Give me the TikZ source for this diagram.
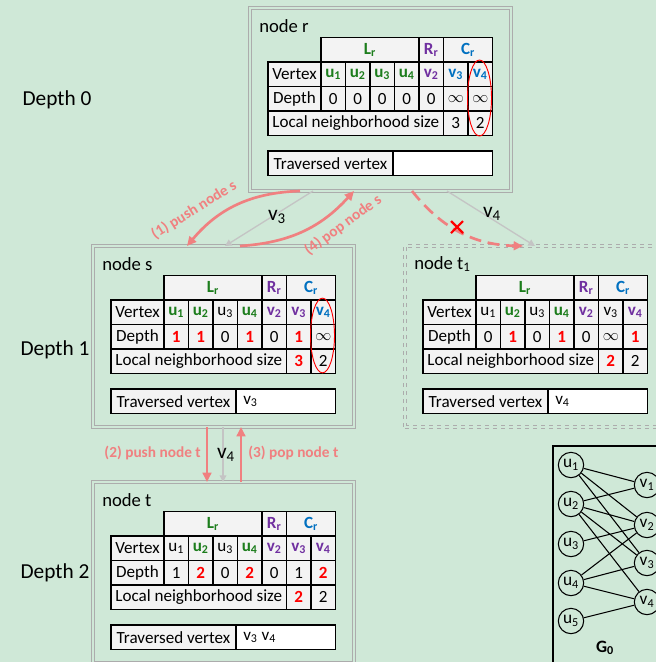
\documentclass[tikz,border=0pt]{standalone}
\usepackage{fontspec}
\setmainfont{Carlito}
\usetikzlibrary{calc,arrows.meta}

\definecolor{bggreen}{RGB}{207,232,215}
\definecolor{boxgray}{RGB}{172,172,172}
\definecolor{edgegray}{RGB}{196,196,196}
\definecolor{salmon}{RGB}{240,128,128}
\definecolor{cgreen}{RGB}{28,125,28}
\definecolor{cpurple}{RGB}{112,48,160}
\definecolor{cblue}{RGB}{0,112,192}
\definecolor{cred}{RGB}{255,0,0}
\definecolor{cellfill}{RGB}{243,243,243}

\tikzset{
  statebox/.style={draw=boxgray, double=bggreen, double distance=1.5pt, line width=0.8pt,
    minimum width=195.75pt, minimum height=135.75pt, inner sep=0pt, outer sep=0pt, anchor=north west},
  boxlabel/.style={font=\fontsize{14}{16}\selectfont, inner sep=0pt, anchor=west},
  tblline/.style={black, line width=0.9pt},
  txt/.style={inner sep=0pt, font=\fontsize{12.8}{14}\selectfont},
  ugrn/.style={txt, text=cgreen, font=\fontsize{12.8}{14}\selectfont\bfseries},
  vpur/.style={txt, text=cpurple, font=\fontsize{12.8}{14}\selectfont\bfseries},
  vblu/.style={txt, text=cblue, font=\fontsize{12.8}{14}\selectfont\bfseries},
  numred/.style={txt, text=cred, font=\fontsize{12.8}{14}\selectfont\bfseries},
  depthlabel/.style={font=\fontsize{16}{18}\selectfont},
  oplabel/.style={text=salmon, font=\fontsize{11.5}{13}\selectfont\bfseries, inner sep=0pt},
  oparrow/.style={salmon, line width=2pt, -{Triangle[length=7pt,width=6.5pt]}},
  treeedge/.style={edgegray, line width=1pt, -{Triangle[length=5pt,width=5pt]}},
  edgelabel/.style={font=\fontsize{16}{18}\selectfont, inner sep=0pt},
  gvertex/.style={circle, draw, line width=0.8pt, minimum size=19pt, inner sep=0pt, font=\fontsize{13}{14}\selectfont},
}

\newcommand{\vx}[2]{#1\textsubscript{#2}}

% search tree node: name, top left corner, title
\newcommand{\statebox}[4][]{%
  \node[statebox,#1] (#2) at (#3) {};
  \node[boxlabel] (#2-name) at ($(#2.north west)+(9,18)$) {#4};}

% table frame of a tree node, #2 = traversed vertices
\newcommand{\tblgrid}[2]{%
  \begin{scope}[shift={(#1.north west)}]
    \fill[cellfill] (71,29.5) rectangle (242.5,54);
    \fill[cellfill] (18,54) rectangle (242.5,127.5);
    \fill[cellfill] (18,143) rectangle (143,167.5);
    \fill[white] (143,143) rectangle (242.5,167.5);
    \draw[tblline] (71,29.5) rectangle (242.5,54) (169,29.5) -- (169,54) (193.5,29.5) -- (193.5,54);
    \draw[tblline] (18,54) rectangle (242.5,127.5) (18,78.5) -- (242.5,78.5) (18,103) -- (242.5,103);
    \foreach \i in {0,...,6} \draw[tblline] ({71+24.5*\i},54) -- ({71+24.5*\i},103);
    \draw[tblline] (193.5,103) -- (193.5,127.5) (218,103) -- (218,127.5);
    \draw[tblline] (18,143) rectangle (242.5,167.5) (143,143) -- (143,167.5);
    \node[ugrn] (#1-L) at (120,41.75) {\vx{L}{r}};
    \node[vpur] (#1-R) at (181.25,41.75) {\vx{R}{r}};
    \node[vblu] (#1-C) at (218,41.75) {\vx{C}{r}};
    \node[txt] (#1-vertex) at (44.5,66.25) {Vertex};
    \node[txt] (#1-depth) at (44.5,90.75) {Depth};
    \node[txt] (#1-size) at (105.75,115.25) {Local neighborhood size};
    \node[txt] (#1-trav) at (80.5,155.25) {Traversed vertex};
    \node[txt, anchor=west] (#1-travval) at (150,155.25) {#2};
  \end{scope}}

% one row of the seven vertex columns
\newcommand{\cellrow}[4]{%
  \foreach \st/\tx [count=\i] in {#4}
    \node[\st] (#1-#2\i) at ($(#1.north west)+({71+24.5*(\i-0.5)},#3)$) {\tx};}

\newcommand{\sizecells}[5]{%
  \node[#2] (#1-size6) at ($(#1.north west)+(205.75,115.25)$) {#3};
  \node[#4] (#1-size7) at ($(#1.north west)+(230.25,115.25)$) {#5};}

\begin{document}
\begin{tikzpicture}[x=0.75pt,y=-0.75pt]

\path[use as bounding box, fill=bggreen] (0,0) rectangle (656,662); % background
\clip (0,0) rectangle (656,662);

% tree nodes
\statebox[minimum height=137.25pt]{r}{250,8}{node r}
\statebox{s}{93,246}{node s}
\statebox[dashed]{t1}{405,246}{node \vx{t}{1}}
\statebox{t}{93,482}{node t}

% node r
\tblgrid{r}{}
\cellrow{r}{v}{66.25}{ugrn/\vx{u}{1}, ugrn/\vx{u}{2}, ugrn/\vx{u}{3}, ugrn/\vx{u}{4}, vpur/\vx{v}{2}, vblu/\vx{v}{3}, vblu/\vx{v}{4}}
\cellrow{r}{d}{90.75}{txt/0, txt/0, txt/0, txt/0, txt/0, txt/$\infty$, txt/$\infty$}
\sizecells{r}{txt}{3}{txt}{2}
\draw[cred, line width=0.7pt] ($(r.north west)+(229.5,90)$) ellipse [x radius=9pt, y radius=28.5pt];

% node s
\tblgrid{s}{\vx{v}{3}}
\cellrow{s}{v}{66.25}{ugrn/\vx{u}{1}, ugrn/\vx{u}{2}, txt/\vx{u}{3}, ugrn/\vx{u}{4}, vpur/\vx{v}{2}, vpur/\vx{v}{3}, vblu/\vx{v}{4}}
\cellrow{s}{d}{90.75}{numred/1, numred/1, txt/0, numred/1, txt/0, numred/1, txt/$\infty$}
\sizecells{s}{numred}{3}{txt}{2}
\draw[cred, line width=0.7pt] ($(s.north west)+(229.5,89.5)$) ellipse [x radius=9pt, y radius=28pt];

% node t1
\tblgrid{t1}{\vx{v}{4}}
\cellrow{t1}{v}{66.25}{txt/\vx{u}{1}, ugrn/\vx{u}{2}, txt/\vx{u}{3}, ugrn/\vx{u}{4}, vpur/\vx{v}{2}, txt/\vx{v}{3}, vpur/\vx{v}{4}}
\cellrow{t1}{d}{90.75}{txt/0, numred/1, txt/0, numred/1, txt/0, txt/$\infty$, numred/1}
\sizecells{t1}{numred}{2}{txt}{2}

% node t
\tblgrid{t}{\vx{v}{3} \vx{v}{4}}
\cellrow{t}{v}{66.25}{txt/\vx{u}{1}, ugrn/\vx{u}{2}, txt/\vx{u}{3}, ugrn/\vx{u}{4}, vpur/\vx{v}{2}, vpur/\vx{v}{3}, vpur/\vx{v}{4}}
\cellrow{t}{d}{90.75}{txt/1, numred/2, txt/0, numred/2, txt/0, txt/1, numred/2}
\sizecells{t}{numred}{2}{txt}{2}

% depth labels
\node[depthlabel] (depth0) at (57,100) {Depth 0};
\node[depthlabel] (depth1) at (55,350) {Depth 1};
\node[depthlabel] (depth2) at (55,573) {Depth 2};

% tree edges
\draw[treeedge] ($(r.south west)+(63,0)$) -- ($(s.north west)+(132,0)$);
\draw[treeedge] ($(r.south west)+(197,0)$) -- ($(t1.north west)+(130,0)$);
\draw[treeedge] ($(s.south west)+(130,0)$) -- ($(t.north west)+(130,0)$);
\node[edgelabel] (lv3) at (277,217) {\vx{v}{3}};
\node[edgelabel] (lv4) at (492,214) {\vx{v}{4}};
\node[edgelabel] (lv4b) at (226,455) {\vx{v}{4}};

% stack operations
\draw[oparrow] ($(r.south west)+(50,0)$) to[bend right=24] ($(s.north west)+(94,0)$); % (1)
\draw[oparrow] ($(s.north west)+(147,0)$) to[bend right=22] ($(r.south west)+(104,0)$); % (4)
\draw[oparrow, dash pattern=on 9pt off 5pt] ($(r.south west)+(162,0)$) to[bend right=25] ($(t1.north west)+(118,0)$);
\draw[oparrow] ($(s.south west)+(114,0)$) -- ($(t.north west)+(114,0)$); % (2)
\draw[oparrow] ($(t.north west)+(148,0)$) -- ($(s.south west)+(148,0)$); % (3)
\node[oplabel, rotate=32] (push-s) at (194,210) {(1) push node s};
\node[oplabel, rotate=36] (pop-s) at (343,225) {(4) pop node s};
\node[oplabel, anchor=east] (push-t) at (201,453) {(2) push node t};
\node[oplabel, anchor=west] (pop-t) at (248,453) {(3) pop node t};

% pruned branch
\coordinate (cut) at (457,227);
\draw[cred, line width=1.6pt] ($(cut)+(-6,-6)$) -- ($(cut)+(6,6)$) ($(cut)+(-6,6)$) -- ($(cut)+(6,-6)$);

% graph G0
\draw[line width=0.8pt] (553,446) rectangle (720,720);
\foreach \i/\y in {1/465,2/504,3/544,4/583,5/621} \node[gvertex] (u\i) at (571,\y) {\vx{u}{\i}};
\foreach \i/\y in {1/485,2/525,3/563,4/602} \node[gvertex] (v\i) at (647,\y) {\vx{v}{\i}};
\foreach \a/\b in {1/1,1/2,1/3,2/1,2/2,2/3,2/4,3/2,4/2,4/3,4/4,5/4} \draw[line width=0.8pt] (u\a) -- (v\b);
\node[font=\fontsize{13}{15}\selectfont\bfseries] (g0) at (605,648) {\vx{G}{0}};

\end{tikzpicture}
\end{document}
